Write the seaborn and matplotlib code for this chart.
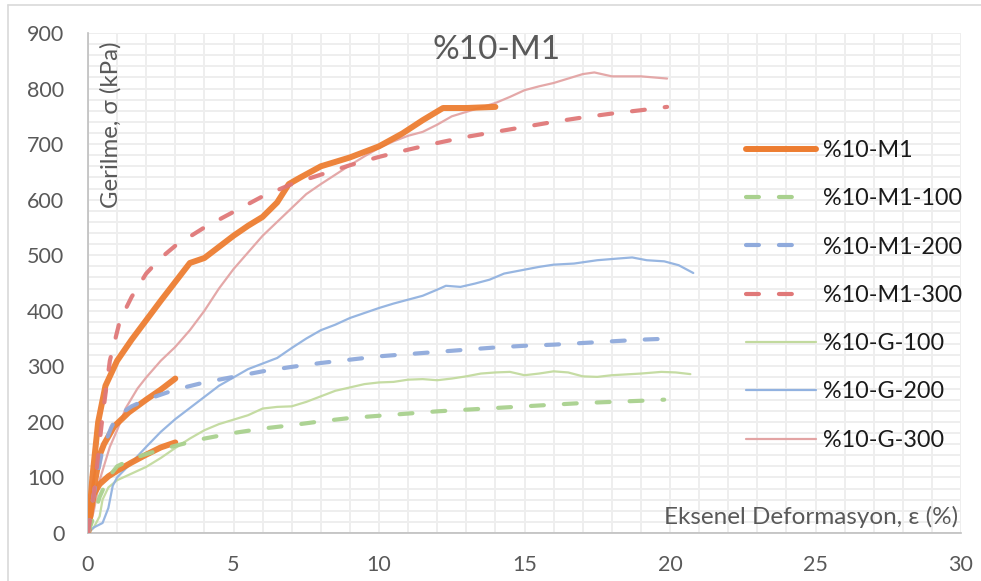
import numpy as np
import pandas as pd
import matplotlib
matplotlib.use("Agg")
import matplotlib.pyplot as plt
from matplotlib.lines import Line2D
import seaborn as sns

# --- %10-M1 (three test curves stored in one series) ---
m1_a_eps = [0, 0.15, 0.35, 0.6, 1.0, 1.5, 2.0, 2.5, 3.0, 3.5, 4.0, 4.5, 5.0, 5.5, 6.0, 6.5, 6.9,
            7.3, 8.0, 9.0, 10.0, 10.8, 11.5, 12.2, 13.0, 14.0]
m1_a_sig = [0, 100, 200, 265, 310, 348, 383, 418, 452, 486, 495, 515, 535, 553, 569, 595, 628,
            640, 660, 676, 696, 719, 743, 765, 765, 767]
m1_b_eps = [0, 0.2, 0.4, 0.55, 0.9, 1.4, 2.0, 2.5, 3.0]
m1_b_sig = [0, 80, 140, 160, 192, 217, 240, 258, 278]
m1_c_eps = [0, 0.1, 0.2, 0.4, 0.7, 1.0, 1.5, 2.0, 2.5, 3.0]
m1_c_sig = [0, 40, 70, 88, 102, 112, 127, 141, 154, 163]

# --- %10-M1-100 / 200 / 300 ---
m1_100_eps = [0, 0.2, 0.4, 0.7, 1.0, 1.5, 2.0, 2.5, 3.0, 4.0, 5.0, 6.0, 7.0, 8.0, 9.0, 10, 11, 12,
              13, 14, 15, 16, 17, 18, 19, 19.8]
m1_100_sig = [0, 30, 65, 100, 120, 133, 142, 150, 157, 170, 180, 188, 194, 201, 207, 211, 215, 219,
              222, 225, 228, 231, 234, 236, 238, 240]
m1_200_eps = [0, 0.1, 0.3, 0.5, 0.8, 1.0, 1.5, 2.0, 3.0, 4.0, 5.0, 6.0, 7.0, 8.0, 9.0, 10, 11, 12,
              13, 14, 15, 16, 17, 18, 19, 20]
m1_200_sig = [0, 40, 100, 150, 190, 210, 228, 240, 258, 271, 281, 291, 299, 306, 312, 318, 322, 326,
              330, 334, 337, 339, 342, 345, 348, 350]
m1_300_eps = [0, 0.2, 0.5, 0.75, 1.1, 1.5, 2.0, 2.5, 3.0, 4.0, 5.0, 6.0, 7.0, 8.0, 9.0, 10, 11, 12,
              13, 14, 15, 16, 17, 18, 19, 19.9]
m1_300_sig = [0, 70, 210, 310, 383, 425, 467, 495, 517, 550, 578, 606, 628, 645, 662, 677, 690, 702,
              713, 722, 731, 740, 748, 755, 761, 767]

# --- %10-G-100 / 200 / 300 ---
g_100_eps = [0, 0.2, 0.4, 0.5, 0.7, 1.0, 1.5, 2.0, 2.5, 3.0, 3.5, 4.0, 4.5, 5.0, 5.5, 6.0, 6.5, 7.0,
             7.5, 8.0, 8.5, 9.0, 9.5, 10, 10.5, 11, 11.5, 12, 12.5, 13, 13.5, 14, 14.5, 15, 15.5,
             16, 16.5, 17, 17.5, 18, 19, 19.7, 20.2, 20.7]
g_100_sig = [0, 10, 30, 60, 82, 95, 107, 119, 135, 153, 170, 185, 196, 204, 212, 224, 227, 228,
             236, 246, 256, 262, 268, 271, 272, 276, 277, 275, 278, 282, 287, 289, 290, 284, 287,
             291, 289, 282, 281, 284, 287, 290, 289, 286]
g_200_eps = [0, 0.2, 0.5, 0.7, 0.85, 1.0, 1.5, 2.0, 2.5, 3.0, 3.5, 4.0, 4.5, 5.0, 5.5, 6.0, 6.5,
             7.0, 7.5, 8.0, 8.5, 9.0, 9.5, 10, 10.5, 11, 11.5, 12, 12.3, 12.8, 13.3, 13.8, 14.3,
             15, 15.5, 16, 16.7, 17.5, 18.2, 18.7, 19.2, 19.8, 20.3, 20.8]
g_200_sig = [0, 10, 18, 45, 85, 100, 127, 155, 182, 205, 225, 245, 265, 280, 295, 305, 315,
             333, 350, 365, 375, 387, 396, 405, 413, 420, 427, 438, 445, 443, 449, 456, 467,
             474, 479, 483, 485, 491, 494, 496, 491, 489, 482, 468]
g_300_eps = [0, 0.2, 0.4, 0.75, 1.0, 1.3, 1.7, 2.0, 2.5, 3.0, 3.5, 4.0, 4.5, 5.0, 5.5, 6.0, 6.5,
             7.0, 7.5, 8.0, 8.5, 9.0, 9.5, 10, 10.5, 11, 11.5, 12, 12.5, 13, 14, 14.5, 15, 15.5,
             16, 16.5, 17, 17.4, 18, 19, 19.9]
g_300_sig = [0, 40, 95, 155, 185, 225, 260, 280, 310, 335, 365, 400, 440, 475, 505, 535, 560,
             585, 610, 628, 645, 662, 678, 693, 705, 715, 722, 735, 750, 758, 774, 785, 797, 804,
             810, 818, 826, 829, 822, 822, 818]

labels = ["%10-M1", "%10-M1-100", "%10-M1-200", "%10-M1-300", "%10-G-100", "%10-G-200", "%10-G-300"]
x_ticks = [0, 5, 10, 15, 20, 25, 30]
y_ticks = [0, 100, 200, 300, 400, 500, 600, 700, 800, 900]

FONT = ["Lato", "DejaVu Sans"]
sns.set_theme(style="white")
plt.rcParams["font.family"] = FONT

W, H = 981, 581
fig = plt.figure(figsize=(W / 100, H / 100), dpi=100)
ax = fig.add_axes([88 / W, (H - 533) / H, 873 / W, 500 / H])

dash = (0, (3.1, 4.8))
legend_dash = (0, (3.1, 4.8, 3.1, 30))
orange = "#ED7D31"
styles = {
    "%10-M1": dict(color=orange, lw=4.3, ls="-", z=4),
    "%10-M1-100": dict(color="#A9D18E", lw=3.0, ls=dash, z=5),
    "%10-M1-200": dict(color="#8FAADC", lw=3.0, ls=dash, z=5),
    "%10-M1-300": dict(color="#E07878", lw=3.0, ls=dash, z=5),
    "%10-G-100": dict(color="#C2DA9E", lw=1.6, ls="-", z=3),
    "%10-G-200": dict(color="#92B2E0", lw=1.6, ls="-", z=3),
    "%10-G-300": dict(color="#E3A4A4", lw=1.6, ls="-", z=3),
}

series = {
    "%10-M1": [(m1_a_eps, m1_a_sig), (m1_b_eps, m1_b_sig), (m1_c_eps, m1_c_sig)],
    "%10-M1-100": [(m1_100_eps, m1_100_sig)],
    "%10-M1-200": [(m1_200_eps, m1_200_sig)],
    "%10-M1-300": [(m1_300_eps, m1_300_sig)],
    "%10-G-100": [(g_100_eps, g_100_sig)],
    "%10-G-200": [(g_200_eps, g_200_sig)],
    "%10-G-300": [(g_300_eps, g_300_sig)],
}

for name, segs in series.items():
    st = styles[name]
    for eps, sig in segs:
        df = pd.DataFrame({"eps": eps, "sig": sig})
        sns.lineplot(data=df, x="eps", y="sig", sort=False, estimator=None, ax=ax,
                     color=st["color"], lw=st["lw"], ls=st["ls"], zorder=st["z"],
                     solid_capstyle="round", dash_capstyle="round", alpha=0.95)

ax.set_xlim(0, 30)
ax.set_ylim(0, 900)
ax.set_xticks(x_ticks)
ax.set_yticks(y_ticks)
ax.set_xticks(np.arange(0, 31, 1), minor=True)
ax.set_yticks(np.arange(0, 901, 20), minor=True)
ax.grid(which="both", color="#eeeeee", lw=1.4, zorder=0)
ax.set_axisbelow(True)
ax.tick_params(which="both", length=0)
ax.tick_params(axis="x", pad=16, labelsize=15.5, labelcolor="#595959")
ax.tick_params(axis="y", pad=17, labelsize=15.5, labelcolor="#595959")
ax.set_xlabel("")
ax.set_ylabel("")
for s in ["top", "right"]:
    ax.spines[s].set_visible(False)
for s in ["left", "bottom"]:
    ax.spines[s].set_color("#bfbfbf")
    ax.spines[s].set_linewidth(1.2)

# chart-area border
fig.add_artist(Line2D([8 / W, 8 / W], [0, 1 - 5 / H], transform=fig.transFigure, color="#d9d9d9", lw=1.2))
fig.add_artist(Line2D([8 / W, 1], [1 - 5 / H, 1 - 5 / H], transform=fig.transFigure, color="#d9d9d9", lw=1.2))

fig.text(497 / W, 1 - 50 / H, "%10-M1", ha="center", va="center", fontsize=24, color="#595959",
         family=FONT)
fig.text(111 / W, 1 - 42 / H, "Gerilme, σ (kPa)", ha="center", va="top", rotation=90,
         fontsize=17.3, color="#595959", family=FONT)
fig.text(958 / W, 1 - 517 / H, "Eksenel Deformasyon, ε (%)", ha="right", va="center",
         fontsize=17.5, color="#595959", family=FONT)

handles = []
for n in labels:
    st = styles[n]
    ls = legend_dash if st["ls"] == dash else st["ls"]
    handles.append(Line2D([], [], color=st["color"], lw=st["lw"], ls=ls,
                          solid_capstyle="round", dash_capstyle="round"))
leg = ax.legend(handles, labels, loc="upper left", bbox_to_anchor=(746 / W, 1 - 140 / H),
                bbox_transform=fig.transFigure, frameon=False, fontsize=16.8,
                handlelength=3.0, handletextpad=0.3, labelspacing=1.17,
                borderpad=0, borderaxespad=0)
for t in leg.get_texts():
    t.set_color("#1a1a1a")

fig.savefig("out.png", dpi=100)
